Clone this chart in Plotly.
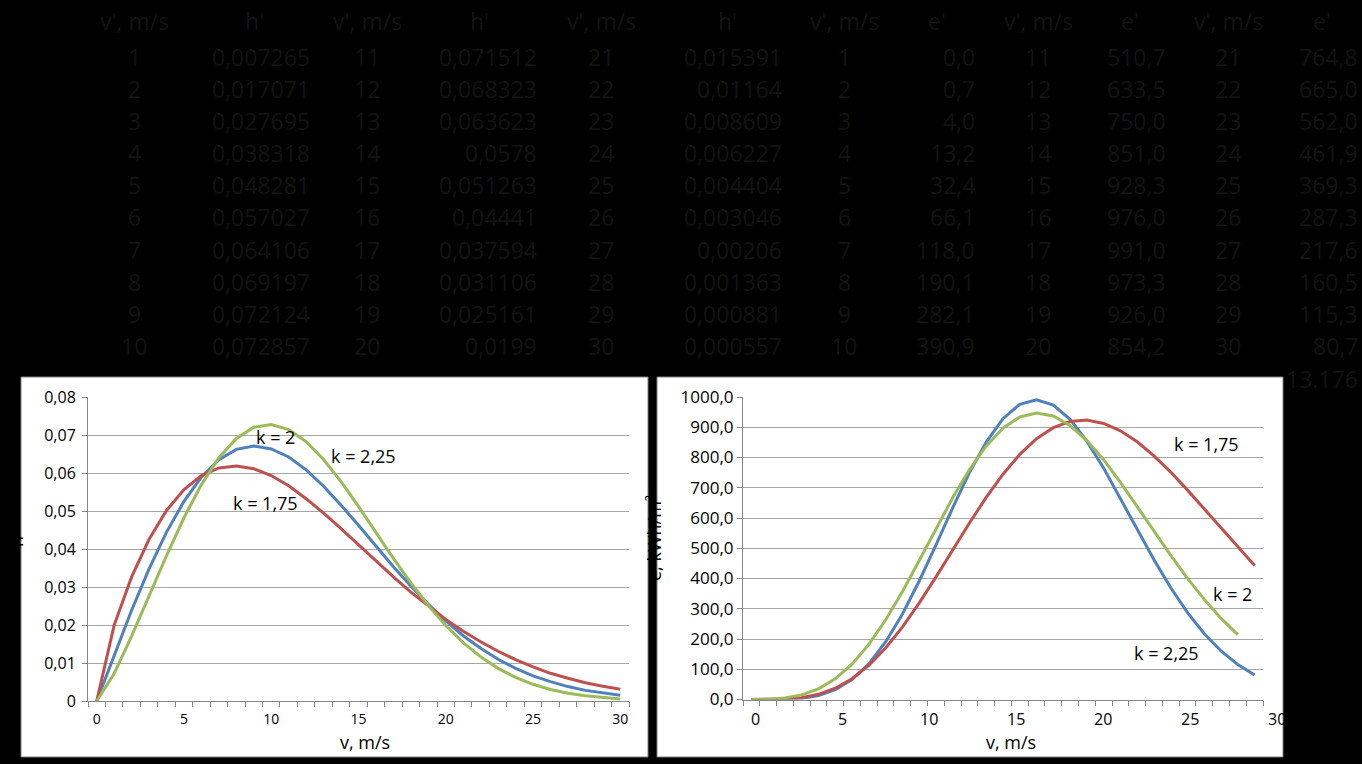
import plotly.graph_objects as go

W, H = 1362, 764
FONT = "Open Sans"
AX = "#868686"
GRID = "#a6a6a6"
TABLE_INK = "#131313"

BLUE = "#4f81bd"
RED = "#c0504d"
GREEN = "#9bbb59"

# wind speed categories for the h chart (0..30 m/s)
v = list(range(0, 31))

# probability density h for k = 2.25 (table values, v = 1..30, plus the 0 point)
h_k225 = [0, 0.007265, 0.017071, 0.027695, 0.038318, 0.048281, 0.057027, 0.064106,
          0.069197, 0.072124, 0.072857, 0.071512, 0.068323, 0.063623, 0.0578, 0.051263,
          0.04441, 0.037594, 0.031106, 0.025161, 0.0199, 0.015391, 0.01164, 0.008609,
          0.006227, 0.004404, 0.003046, 0.00206, 0.001363, 0.000881, 0.000557]
h_k2 = [0, 0.0122, 0.0239, 0.0348, 0.0445, 0.0526, 0.0590, 0.0636, 0.0663, 0.0672,
        0.0664, 0.0643, 0.0609, 0.0566, 0.0516, 0.0463, 0.0408, 0.0354, 0.0303, 0.0255,
        0.0211, 0.0172, 0.0139, 0.0110, 0.0086, 0.0066, 0.0051, 0.0038, 0.0028, 0.0021,
        0.0015]
h_k175 = [0, 0.0200, 0.0327, 0.0426, 0.0502, 0.0557, 0.0594, 0.0614, 0.0619, 0.0612,
          0.0594, 0.0567, 0.0533, 0.0495, 0.0454, 0.0411, 0.0369, 0.0327, 0.0287, 0.0250,
          0.0215, 0.0184, 0.0156, 0.0131, 0.0109, 0.0090, 0.0073, 0.0060, 0.0048, 0.0039,
          0.0031]

# energy e, kWh/m2 (category positions on the second chart)
e_pos = list(range(0, 31))
e_k225 = [0, 0.0, 0.7, 4.0, 13.2, 32.4, 66.1, 118.0, 190.1, 282.1, 390.9, 510.7, 633.5,
          750.0, 851.0, 928.3, 976.0, 991.0, 973.3, 926.0, 854.2, 764.8, 665.0, 562.0,
          461.9, 369.3, 287.3, 217.6, 160.5, 115.3, 80.7]
e_k2 = [0.1, 1.0, 5.0, 15.3, 35.3, 68.4, 117.0, 182.0, 262.7, 356.4, 458.8, 564.2, 666.7,
        760.0, 838.2, 897.2, 934.1, 947.1, 937.3, 905.6, 856.1, 792.9, 718.0, 637.8,
        556.6, 476.2, 400.2, 330.9, 268.2, 214.4]
e_k175 = [0, 0.1, 1.4, 6.2, 17.2, 37.4, 68.8, 113.0, 170.1, 239.3, 318.5, 404.7, 494.3,
          583.4, 668.2, 744.9, 810.4, 862.2, 898.6, 919.2, 923.6, 912.7, 888.3, 851.8,
          805.4, 751.9, 692.1, 629.4, 566.5, 503.8, 443.3]

x_ticks = [0, 5, 10, 15, 20, 25, 30]

# table above the charts
v_tab = list(range(1, 31))
h_tab = h_k225[1:]
e_tab = e_k225[1:]


def px(x):
    return x / W


def py(y):
    return 1 - y / H


def num(x, dec=None):
    s = str(x) if dec is None else f"{x:.{dec}f}"
    return s.replace(".", ",")


fig = go.Figure()

for name, ys, col in [("k = 2", h_k2, BLUE), ("k = 1,75", h_k175, RED), ("k = 2,25", h_k225, GREEN)]:
    fig.add_trace(go.Scatter(x=v, y=ys, mode="lines", name=name,
                             line=dict(color=col, width=3), xaxis="x", yaxis="y"))

for name, xs, ys, col in [("k = 2,25", e_pos, e_k225, BLUE), ("k = 1,75", e_pos, e_k175, RED),
                          ("k = 2", e_pos[:len(e_k2)], e_k2, GREEN)]:
    fig.add_trace(go.Scatter(x=xs, y=ys, mode="lines", name=name,
                             line=dict(color=col, width=3), xaxis="x2", yaxis="y2"))

shapes = [
    dict(type="rect", xref="paper", yref="paper", x0=px(21), x1=px(648), y0=py(757), y1=py(377),
         fillcolor="white", line=dict(color="#7f7f7f", width=1), layer="below"),
    dict(type="rect", xref="paper", yref="paper", x0=px(657), x1=px(1283), y0=py(757), y1=py(377),
         fillcolor="white", line=dict(color="#7f7f7f", width=1), layer="below"),
]

ann = []
tfont = dict(family=FONT, size=23, color=TABLE_INK)
row_y = [57 + 32.1 * r for r in range(10)]
v_cx = [134, 367, 601, 844, 1038, 1228]
val_rx = [312, 539, 784, 977, 1168, 1360]
hdr_cx = [254, 479, 727, 937, 1130, 1322]
for c in range(6):
    ann.append(dict(x=px(v_cx[c]), y=py(21), text="v', m/s", xanchor="center"))
    ann.append(dict(x=px(hdr_cx[c]), y=py(21), text="h'" if c < 3 else "e'", xanchor="center"))
    block = c % 3
    for r in range(10):
        i = block * 10 + r
        ann.append(dict(x=px(v_cx[c]), y=py(row_y[r]), text=str(v_tab[i]), xanchor="center"))
        txt = num(h_tab[i]) if c < 3 else num(e_tab[i], 1)
        ann.append(dict(x=px(val_rx[c]), y=py(row_y[r]), text=txt, xanchor="right"))
ann.append(dict(x=px(1360), y=py(379), text="13.176", xanchor="right"))
for a in ann:
    a.update(xref="paper", yref="paper", yanchor="middle", showarrow=False, font=tfont)

lab = dict(family=FONT, size=18, color="black")
chart_notes = [
    dict(x=px(275), y=py(437), text="k = 2"),
    dict(x=px(363), y=py(456), text="k = 2,25"),
    dict(x=px(265), y=py(503), text="k = 1,75"),
    dict(x=px(1206), y=py(444), text="k = 1,75"),
    dict(x=px(1232), y=py(594), text="k = 2"),
    dict(x=px(1166), y=py(653), text="k = 2,25"),
    dict(x=px(365), y=py(742), text="v, m/s"),
    dict(x=px(1011), y=py(742), text="v, m/s"),
    dict(x=px(16), y=py(542), text="h", textangle=-90),
    dict(x=px(654), y=py(538), text="e, kWh/m²", textangle=-90),
]
for a in chart_notes:
    a.update(xref="paper", yref="paper", xanchor="center", yanchor="middle",
             showarrow=False, font=lab)
    ann.append(a)

# x labels of the energy chart sit on their own spacing, a bit wider than the categories
for t in x_ticks:
    ann.append(dict(x=px(755 + t * 17.4), y=py(719), xref="paper", yref="paper", text=str(t),
                    xanchor="center", yanchor="middle", showarrow=False,
                    font=dict(family=FONT, size=16, color="black")))

xa = dict(range=[-0.5, 30.5], showgrid=False, zeroline=False, showline=True,
          linecolor=AX, linewidth=1, ticks="outside", ticklen=5, tickcolor="rgba(0,0,0,0)",
          minor=dict(ticks="outside", ticklen=5, tick0=0.5, dtick=1, tickcolor=AX, showgrid=False),
          automargin=False, fixedrange=True)
ya = dict(showgrid=True, gridcolor=GRID, gridwidth=1.4, zeroline=False, showline=True,
          linecolor=AX, linewidth=1, ticks="outside", ticklen=5, tickcolor=AX,
          automargin=False, fixedrange=True)

fig.update_layout(
    width=W, height=H,
    margin=dict(l=0, r=0, t=0, b=0),
    paper_bgcolor="black", plot_bgcolor="rgba(0,0,0,0)",
    separators=",.",
    showlegend=False,
    xaxis=dict(xa, domain=[px(88), px(629)], anchor="y", tickmode="array", tickvals=x_ticks,
               tickfont=dict(family=FONT, size=14, color="black")),
    yaxis=dict(ya, domain=[py(701), py(397)], anchor="x", range=[0, 0.0801], dtick=0.01,
               tickfont=dict(family=FONT, size=16, color="black"), ticklabelstandoff=3),
    xaxis2=dict(xa, domain=[px(743), px(1263)], anchor="y2", showticklabels=False),
    yaxis2=dict(ya, domain=[py(699.5), py(396.7)], anchor="x2", range=[0, 1001], dtick=100,
                tickformat=".1f", tickfont=dict(family=FONT, size=17, color="black")),
    shapes=shapes,
    annotations=ann,
)

fig.write_html("out.html", config={"displayModeBar": False},
               post_script="document.body.style.margin = '0';")
